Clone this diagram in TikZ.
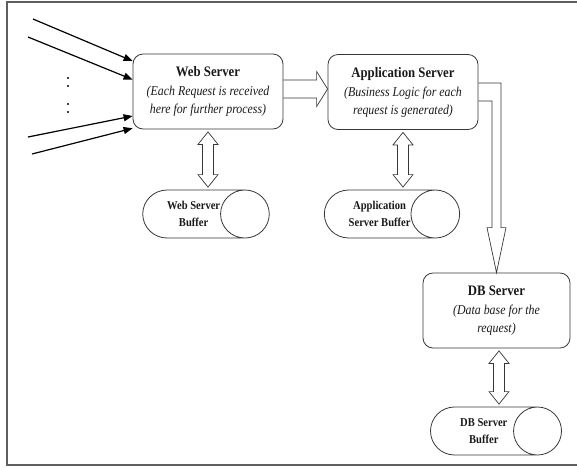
\documentclass[tikz,border=0pt]{standalone}
\usepackage{fontspec}
\setmainfont{Liberation Serif}[FakeStretch=0.88]
\usepackage{xcolor}
\usepackage{tikz}
\usetikzlibrary{positioning, shapes.geometric, calc, arrows.meta}
\definecolor{srvLine}{RGB}{55, 55, 55}
\definecolor{srvText}{RGB}{25, 25, 25}
\definecolor{srvFrame}{RGB}{95, 95, 95}
\tikzset{
    base/.style={
        font=\fontsize{13.5}{18}\selectfont,
        align=center,
        text=srvText
    },
    server/.style={
        base,
        rectangle,
        rounded corners=10pt,
        draw=srvLine,
        line width=0.8pt,
        minimum width=150pt,
        minimum height=75pt,
        inner sep=0pt
    },
    buffer/.style={
        base,
        font=\fontsize{12}{16.5}\selectfont\bfseries,
        cylinder,
        draw=srvLine,
        line width=0.8pt,
        shape aspect=1.95,
        minimum width=48pt,
        inner sep=0pt
    },
    request/.style={
        -{Triangle[length=9pt, width=7pt]},
        line width=1.2pt,
        color=black
    },
    twoway/.style={
        draw=srvLine,
        line width=0.7pt,
        to path={
            let \p1=(\tikztostart), \p2=(\tikztotarget) in
            (\x1,\y1-2.5pt) -- (\x1+10pt,\y1-15pt) -- (\x1+5.5pt,\y1-15pt)
            -- (\x1+5.5pt,\y2+15pt) -- (\x1+10pt,\y2+15pt) -- (\x1,\y2+2.5pt)
            -- (\x1-10pt,\y2+15pt) -- (\x1-5.5pt,\y2+15pt) -- (\x1-5.5pt,\y1-15pt)
            -- (\x1-10pt,\y1-15pt) -- cycle
        }
    },
    pushright/.style={
        draw=srvLine,
        line width=0.7pt,
        to path={
            let \p1=(\tikztostart), \p2=(\tikztotarget) in
            (\x1,\y1+9pt) -- (\x2-11pt,\y1+9pt) -- (\x2-11pt,\y1+17.5pt)
            -- (\x2,\y1) -- (\x2-11pt,\y1-17.5pt) -- (\x2-11pt,\y1-9pt)
            -- (\x1,\y1-9pt)
        }
    },
    pushdown/.style={
        draw=srvLine,
        line width=0.7pt,
        to path={
            let \p1=(\tikztostart), \p2=(\tikztotarget) in
            (\x1,\y1+9pt) -- (\x2+4.5pt,\y1+9pt) -- (\x2+4.5pt,\y2+45pt)
            -- (\x2+9.5pt,\y2+45pt) -- (\x2,\y2) -- (\x2-9.5pt,\y2+45pt)
            -- (\x2-4.5pt,\y2+45pt) -- (\x2-4.5pt,\y1-9pt) -- (\x1,\y1-9pt)
        }
    }
}
\newcommand{\srvtitle}[1]{{\fontsize{14.5}{18}\selectfont\bfseries #1}}

\begin{document}
\begin{tikzpicture}[x=1pt, y=-1pt]
  \useasboundingbox (0,0) rectangle (577,467);

  % Frame
  \draw[srvFrame, line width=1.8pt] (577,2) -- (7,2) -- (7,465) -- (577,465);

  % Servers
  \node[server] (web) at (208,91.5)
    {\srvtitle{Web Server}\\[1pt]{\itshape (Each Request is received}\\{\itshape here for further process)}};
  \node[server] (app) at (403,92)
    {\srvtitle{Application Server}\\[1pt]{\itshape (Business Logic for each}\\{\itshape request is generated)}};
  \node[server, minimum width=147pt] (db) at (496.5,310.5)
    {\srvtitle{DB Server}\\[1pt]{\itshape (Data base for the}\\{\itshape request)}};

  % Buffers
  \node[buffer, minimum height=113pt, anchor=shape center] (webbuf) at (206,214) {Web Server\\Buffer};
  \node[buffer, minimum height=116pt, anchor=shape center] (appbuf) at (392,214) {Application\\Server Buffer};
  \node[buffer, minimum height=131pt, anchor=shape center] (dbbuf) at (496,431) {DB Server\\Buffer};

  % Incoming requests
  \coordinate (src1) at (33,19);
  \coordinate (src2) at (28,37);
  \coordinate (src3) at (28,137);
  \coordinate (src4) at (32,154);
  \draw[request] (src1) -- (web.158.5);
  \draw[request] (src2) -- (web.171.3);
  \draw[request] (src3) -- (web.198.1);
  \draw[request] (src4) -- (web.206.5);
  \foreach \dy in {78,86,104,112}
    \fill[black] (68,\dy) circle (1.2pt);

  % Flow between servers
  \draw[pushright] ([yshift=2.5pt]web.east) to ([yshift=2.5pt]app.west);
  \draw[pushdown] (app.east) to (db.north);

  % Server <-> buffer
  \draw[twoway] (web.south) to (webbuf.north);
  \draw[twoway] (app.south) to (appbuf.north);
  \draw[twoway] ([xshift=2.5pt]db.south) to (dbbuf.north);
\end{tikzpicture}
\end{document}
